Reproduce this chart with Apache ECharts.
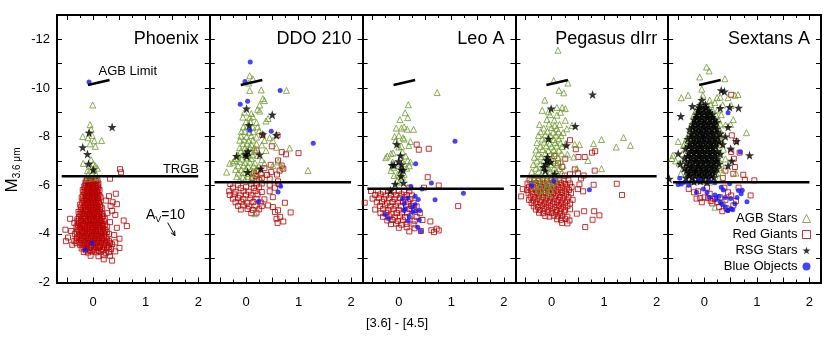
<!DOCTYPE html>
<html>
<head>
<meta charset="utf-8">
<script src="https://cdn.jsdelivr.net/npm/echarts@6/dist/echarts.min.js"></script>
<style>
  html, body { margin: 0; padding: 0; background: #fff; }
  #main { width: 830px; height: 342px; }
</style>
</head>
<body>
<div id="main"></div>
<script>
// panels, left to right
var panelNames = ['Phoenix', 'DDO 210', 'Leo A', 'Pegasus dIrr', 'Sextans A'];
var trgbLevels = [-6.37, -6.12, -5.86, -6.37, -6.12];
var trgbSpan = [-0.6, 2.0];
var agbLimit = [[-0.1, -10.12], [0.31, -10.33]];

// tick positions
var xMajorTicks = [-0.5, 0, 0.5, 1, 1.5, 2];
var xMinorTicks = [-0.25, 0.25, 0.75, 1.25, 1.75];
var xTickLabels = [0, 1, 2];
var yTicks = [-12, -11, -10, -9, -8, -7, -6, -5, -4, -3];
var yTickLabels = [-12, -10, -8, -6, -4, -2];

// ---- Phoenix ----
var phoenixAgb = [[-0.01,-9.3],[-0.06,-8.49],[-0.04,-8.3],[-0.2,-8.0],[-0.02,-8.05],[0.16,-7.84],[-0.06,-7.7],[0.02,-7.83],
  [-0.1,-7.95],[0.04,-7.6],[-0.19,-6.9],[0.0,-6.88],[0.04,-6.8],[-0.11,-6.6],[0.02,-6.62],[-0.05,-6.75],[-0.1,-6.45],
  [0.05,-6.45],[-0.02,-6.5],[-0.11,-6.28],[0.0,-6.3],[0.08,-6.32],[-0.04,-7.05],[0.08,-6.7]];
var phoenixRgb = [[-0.12,-6.25],[-0.05,-6.22],[0.02,-6.26],[0.08,-6.2],
  [-0.15,-6.1],[-0.1,-6.08],[-0.04,-6.12],[0.0,-6.06],[0.05,-6.1],[0.1,-6.07],[0.32,-6.27],[0.51,-6.66],[0.53,-6.53],
  [-0.17,-5.95],[-0.11,-5.93],[-0.06,-5.97],[-0.01,-5.92],[0.04,-5.96],[0.09,-5.94],
  [-0.2,-5.8],[-0.13,-5.78],[-0.08,-5.82],[-0.03,-5.79],[0.02,-5.81],[0.07,-5.77],[0.12,-5.8],[0.43,-5.65],
  [-0.16,-5.65],[-0.1,-5.63],[-0.05,-5.67],[0.0,-5.64],[0.05,-5.66],[0.1,-5.62],[0.3,-5.55],
  [-0.22,-5.5],[-0.14,-5.48],[-0.08,-5.52],[-0.02,-5.49],[0.03,-5.51],[0.08,-5.47],[0.14,-5.5],[0.24,-5.37],
  [-0.18,-5.35],[-0.12,-5.33],[-0.06,-5.37],[0.0,-5.34],[0.06,-5.36],[0.11,-5.32],[0.37,-5.3],
  [-0.25,-5.2],[-0.16,-5.18],[-0.1,-5.22],[-0.04,-5.19],[0.02,-5.21],[0.07,-5.17],[0.13,-5.2],[0.33,-5.15],[0.45,-5.22],
  [-0.2,-5.05],[-0.13,-5.03],[-0.07,-5.07],[-0.01,-5.04],[0.05,-5.06],[0.1,-5.02],[0.17,-5.05],
  [-0.28,-4.9],[-0.22,-4.88],[-0.15,-4.92],[-0.09,-4.89],[-0.03,-4.91],[0.03,-4.87],[0.08,-4.9],[0.14,-4.88],[0.36,-4.95],[0.27,-4.85],
  [-0.24,-4.75],[-0.17,-4.73],[-0.11,-4.77],[-0.05,-4.74],[0.01,-4.76],[0.07,-4.72],[0.12,-4.75],[0.19,-4.73],[0.42,-4.78],
  [-0.44,-4.62],[-0.3,-4.6],[-0.23,-4.58],[-0.16,-4.62],[-0.1,-4.59],[-0.04,-4.61],[0.02,-4.57],[0.08,-4.6],[0.14,-4.58],[0.22,-4.62],[0.58,-4.55],
  [-0.36,-4.45],[-0.27,-4.45],[-0.2,-4.43],[-0.13,-4.47],[-0.07,-4.44],[-0.01,-4.46],[0.05,-4.42],[0.11,-4.45],[0.17,-4.43],[0.32,-4.48],
  [-0.32,-4.3],[-0.25,-4.28],[-0.18,-4.32],[-0.12,-4.29],[-0.06,-4.31],[0.0,-4.27],[0.06,-4.3],[0.12,-4.28],[0.19,-4.32],[0.26,-4.3],[0.45,-4.25],[0.64,-4.32],
  [-0.53,-4.17],[-0.42,-4.12],[-0.28,-4.15],[-0.21,-4.13],[-0.15,-4.17],[-0.09,-4.14],[-0.03,-4.16],[0.03,-4.12],[0.09,-4.15],[0.15,-4.13],[0.23,-4.17],
  [-0.35,-4.0],[-0.27,-3.98],[-0.19,-4.02],[-0.12,-3.99],[-0.05,-4.01],[0.02,-3.97],[0.08,-4.0],[0.15,-3.98],[0.22,-4.02],[0.3,-4.0],[0.4,-3.95],
  [-0.48,-3.85],[-0.31,-3.85],[-0.24,-3.83],[-0.17,-3.87],[-0.1,-3.84],[-0.04,-3.86],[0.03,-3.82],[0.1,-3.85],[0.17,-3.83],[0.25,-3.87],[0.5,-3.8],
  [-0.52,-3.7],[-0.36,-3.7],[-0.28,-3.68],[-0.2,-3.72],[-0.13,-3.69],[-0.06,-3.71],[0.01,-3.67],[0.08,-3.7],[0.15,-3.68],[0.22,-3.72],[0.3,-3.7],[0.42,-3.65],
  [-0.4,-3.55],[-0.25,-3.55],[-0.18,-3.53],[-0.11,-3.57],[-0.04,-3.54],[0.04,-3.56],[0.12,-3.52],[0.2,-3.55],[0.28,-3.53],[0.36,-3.57],
  [-0.22,-3.4],[-0.15,-3.38],[-0.07,-3.42],[0.01,-3.39],[0.09,-3.41],[0.17,-3.37],[0.26,-3.4],[0.34,-3.38],[0.5,-3.42],
  [-0.18,-3.25],[-0.1,-3.23],[-0.02,-3.27],[0.06,-3.24],[0.14,-3.26],[0.24,-3.22],[0.3,-3.25],[0.42,-3.28],
  [-0.05,-3.1],[0.1,-3.08],[0.2,-3.12],[0.32,-3.1],[0.2,-2.95],[0.36,-2.9],
  // denser core
  [-0.13,-6.17],[-0.07,-6.17],[-0.01,-6.17],[0.05,-6.17],
  [-0.14,-6.02],[-0.08,-6.02],[-0.02,-6.02],[0.03,-6.02],[0.08,-6.02],
  [-0.16,-5.87],[-0.1,-5.87],[-0.05,-5.87],[0.0,-5.87],[0.05,-5.87],[0.1,-5.87],
  [-0.18,-5.72],[-0.12,-5.72],[-0.07,-5.72],[-0.02,-5.72],[0.03,-5.72],[0.08,-5.72],
  [-0.19,-5.57],[-0.13,-5.57],[-0.08,-5.57],[-0.03,-5.57],[0.03,-5.57],[0.08,-5.57],[0.12,-5.57],
  [-0.2,-5.42],[-0.15,-5.42],[-0.09,-5.42],[-0.03,-5.42],[0.03,-5.42],[0.09,-5.42],
  [-0.21,-5.27],[-0.13,-5.27],[-0.07,-5.27],[-0.01,-5.27],[0.05,-5.27],[0.1,-5.27],
  [-0.23,-5.12],[-0.17,-5.12],[-0.1,-5.12],[-0.04,-5.12],[0.02,-5.12],[0.08,-5.12],[0.14,-5.12],
  [-0.24,-4.97],[-0.16,-4.97],[-0.1,-4.97],[-0.04,-4.97],[0.02,-4.97],[0.08,-4.97],[0.13,-4.97],
  [-0.26,-4.82],[-0.19,-4.82],[-0.12,-4.82],[-0.06,-4.82],[0.0,-4.82],[0.06,-4.82],[0.11,-4.82],[0.17,-4.82],
  [-0.27,-4.67],[-0.2,-4.67],[-0.13,-4.67],[-0.07,-4.67],[-0.01,-4.67],[0.05,-4.67],[0.11,-4.67],[0.17,-4.67],
  [-0.3,-4.52],[-0.23,-4.52],[-0.16,-4.52],[-0.1,-4.52],[-0.04,-4.52],[0.02,-4.52],[0.08,-4.52],[0.14,-4.52],[0.2,-4.52],
  [-0.29,-4.37],[-0.22,-4.37],[-0.15,-4.37],[-0.09,-4.37],[-0.03,-4.37],[0.03,-4.37],[0.09,-4.37],[0.15,-4.37],[0.22,-4.37],
  [-0.3,-4.22],[-0.24,-4.22],[-0.18,-4.22],[-0.12,-4.22],[-0.06,-4.22],[0.0,-4.22],[0.06,-4.22],[0.12,-4.22],[0.19,-4.22],
  [-0.31,-4.07],[-0.23,-4.07],[-0.16,-4.07],[-0.09,-4.07],[-0.02,-4.07],[0.05,-4.07],[0.12,-4.07],[0.19,-4.07],[0.26,-4.07],
  [-0.28,-3.92],[-0.21,-3.92],[-0.14,-3.92],[-0.07,-3.92],[0.0,-3.92],[0.07,-3.92],[0.14,-3.92],[0.21,-3.92],
  [-0.32,-3.77],[-0.24,-3.77],[-0.17,-3.77],[-0.1,-3.77],[-0.03,-3.77],[0.04,-3.77],[0.11,-3.77],[0.18,-3.77],[0.26,-3.77],
  [-0.32,-3.62],[-0.22,-3.62],[-0.15,-3.62],[-0.08,-3.62],[0.0,-3.62],[0.08,-3.62],[0.16,-3.62],[0.24,-3.62],[0.32,-3.62],
  [-0.19,-3.47],[-0.11,-3.47],[-0.03,-3.47],[0.05,-3.47],[0.13,-3.47],[0.21,-3.47],[0.3,-3.47],
  [-0.14,-3.32],[-0.06,-3.32],[0.02,-3.32],[0.1,-3.32],[0.19,-3.32]];
var phoenixRsg = [[0.36,-8.39],[-0.08,-8.16],[-0.2,-7.56],[-0.11,-7.28],[-0.09,-6.88],[0.0,-6.64]];
var phoenixBlue = [[-0.08,-10.24],[-0.02,-3.62],[-0.15,-3.35]];

// ---- DDO 210 ----
var ddoAgb = [[0.07,-10.5],[0.13,-10.38],[0.05,-10.2],[0.07,-9.9],[0.29,-9.92],[0.77,-9.9],[0.32,-9.56],[0.35,-9.48],
  [0.26,-9.3],[0.22,-9.12],[0.26,-9.05],[0.42,-8.74],[0.38,-8.64],[0.83,-7.53],[1.18,-6.61],[0.17,-4.83],[-0.31,-6.9],
  [-0.37,-6.54],[-0.22,-7.02],[0.68,-6.75],[0.61,-6.96],[0.51,-6.81],[0.58,-7.56],[0.45,-7.95],[0.51,-7.84],
  [-0.03,-9.0],[0.1,-8.95],[-0.06,-8.8],[0.07,-8.78],[0.13,-8.82],[0.0,-8.6],[0.08,-8.62],[0.2,-8.58],
  [-0.05,-8.4],[0.03,-8.42],[0.13,-8.38],[0.22,-8.4],[-0.09,-8.2],[-0.02,-8.22],[0.06,-8.18],[0.14,-8.2],[0.25,-8.24],
  [-0.1,-8.02],[0.01,-8.0],[0.1,-8.04],[0.2,-7.98],[0.35,-7.84],[-0.12,-7.85],[-0.04,-7.87],[0.05,-7.83],[0.13,-7.86],
  [-0.06,-7.7],[0.02,-7.72],[0.1,-7.68],[0.2,-7.7],[0.3,-7.66],[-0.12,-7.55],[-0.02,-7.53],[0.07,-7.57],[0.16,-7.54],
  [-0.1,-7.4],[0.0,-7.42],[0.09,-7.38],[0.18,-7.4],[0.38,-7.43],[-0.16,-7.25],[-0.06,-7.27],[0.04,-7.23],[0.12,-7.25],[0.22,-7.22],
  [-0.2,-7.1],[-0.08,-7.08],[0.02,-7.12],[0.1,-7.1],[0.3,-7.05],[-0.25,-6.95],[-0.12,-6.97],[-0.02,-6.93],[0.07,-6.95],[0.17,-6.92],[0.35,-6.9],
  [-0.15,-6.8],[-0.05,-6.82],[0.04,-6.78],[0.14,-6.8],[0.24,-6.77],[-0.2,-6.65],[-0.09,-6.63],[0.0,-6.67],[0.1,-6.64],[0.2,-6.66],
  [-0.15,-6.5],[-0.05,-6.52],[0.05,-6.48],[0.13,-6.5],[-0.18,-6.35],[-0.06,-6.33],[0.04,-6.37],[0.13,-6.34],[0.26,-6.33],
  [-0.12,-6.2],[-0.02,-6.22],[0.08,-6.18]];
var ddoRgb = [[0.31,-8.06],[0.6,-8.05],[0.49,-7.6],[0.2,-7.43],[0.68,-7.36],[0.76,-7.27],[1.0,-7.32],[0.61,-7.02],[0.47,-6.84],
  [0.68,-6.81],[0.71,-6.68],[0.64,-6.6],[0.59,-6.44],[0.48,-6.54],[0.45,-6.27],[0.61,-6.16],[0.22,-6.6],[0.28,-6.45],
  [0.18,-6.38],[0.3,-6.3],[0.35,-6.7],[0.25,-6.22],[0.4,-6.42],[0.15,-6.52],[0.2,-6.25],[0.12,-6.3],
  [-0.3,-6.05],[-0.15,-6.02],[0.1,-6.06],[0.2,-6.03],[0.3,-6.07],[0.45,-6.02],[0.62,-6.05],
  [-0.25,-5.9],[-0.1,-5.88],[0.0,-5.92],[0.15,-5.89],[0.25,-5.91],[0.55,-5.9],
  [-0.32,-5.75],[-0.2,-5.73],[-0.05,-5.77],[0.05,-5.74],[0.18,-5.76],[0.3,-5.72],[0.45,-5.75],
  [-0.31,-5.6],[-0.22,-5.62],[-0.12,-5.58],[0.0,-5.61],[0.1,-5.59],[0.22,-5.62],[0.51,-5.51],
  [-0.25,-5.45],[-0.15,-5.47],[-0.05,-5.43],[0.08,-5.46],[0.2,-5.44],[0.35,-5.42],
  [-0.2,-5.3],[-0.09,-5.32],[0.02,-5.28],[0.14,-5.31],[0.28,-5.29],[0.42,-5.17],[0.74,-5.28],
  [-0.15,-5.15],[-0.05,-5.17],[0.06,-5.13],[0.18,-5.16],[0.3,-5.14],[0.51,-5.1],
  [-0.1,-5.0],[0.03,-5.02],[0.13,-4.98],[0.25,-5.01],[0.61,-4.97],[0.1,-4.85],[0.2,-4.87],[0.55,-4.9],[0.85,-4.88],
  [0.58,-4.62],[0.65,-4.7],[0.71,-4.51],[0.6,-4.45]];
var ddoRsg = [[0.01,-9.15],[0.06,-8.46],[0.5,-8.9],[0.32,-8.09],[0.58,-8.06],[0.04,-7.39],[0.01,-7.2],[-0.18,-7.2],
  [0.26,-7.26],[0.28,-6.68],[0.03,-6.54],[-0.01,-7.27]];
var ddoBlue = [[0.08,-11.07],[-0.02,-10.27],[0.65,-9.9],[-0.11,-9.33],[0.03,-9.45],[0.07,-8.26],[0.48,-8.22],[1.28,-7.73],
  [0.66,-5.96],[0.61,-5.72],[0.24,-5.33]];

// ---- Leo A ----
var leoAgb = [[0.73,-9.81],[0.18,-9.31],[0.12,-8.98],[0.17,-8.78],[0.02,-8.7],[-0.05,-8.35],[0.05,-8.35],[0.1,-8.4],
  [0.28,-8.3],[0.16,-8.3],[-0.08,-8.0],[0.0,-8.05],[0.08,-7.95],[0.22,-7.8],[0.19,-7.63],[0.0,-7.57],[-0.06,-7.84],
  [0.1,-7.9],[-0.22,-7.2],[-0.11,-7.33],[-0.15,-7.3],[0.07,-7.36],[0.04,-7.16],[0.17,-7.02],[0.13,-7.2],[0.22,-6.96],
  [-0.06,-6.88],[0.1,-6.88],[0.2,-6.8],[-0.1,-6.72],[-0.15,-6.61],[-0.02,-6.45],[0.1,-6.45],[-0.09,-6.4],[0.07,-6.33],
  [-0.03,-6.17],[0.01,-6.13],[0.15,-6.7],[0.05,-7.6],[-0.12,-6.95],[0.03,-6.55],[-0.25,-7.13]];
var leoRgb = [[-0.4,-5.75],[-0.3,-5.73],[-0.2,-5.77],[-0.1,-5.74],[0.0,-5.76],[0.1,-5.72],[0.2,-5.75],[-0.53,-5.76],
  [-0.45,-5.6],[-0.35,-5.62],[-0.25,-5.58],[-0.15,-5.61],[-0.05,-5.59],[0.05,-5.62],[0.15,-5.6],[0.25,-5.58],
  [-0.5,-5.45],[-0.38,-5.47],[-0.28,-5.43],[-0.18,-5.46],[-0.08,-5.44],[0.02,-5.47],[0.12,-5.45],[0.22,-5.43],
  [-0.65,-5.28],[-0.42,-5.3],[-0.32,-5.32],[-0.22,-5.28],[-0.12,-5.31],[-0.02,-5.29],[0.08,-5.32],[0.18,-5.3],[0.28,-5.28],
  [-0.36,-5.15],[-0.26,-5.17],[-0.16,-5.13],[-0.06,-5.16],[0.04,-5.14],[0.14,-5.17],[0.24,-5.15],[0.34,-5.13],
  [-0.45,-5.0],[-0.3,-5.02],[-0.2,-4.98],[-0.1,-5.01],[0.0,-4.99],[0.2,-5.02],[0.3,-4.98],
  [-0.35,-4.85],[-0.24,-4.87],[-0.14,-4.83],[-0.04,-4.86],[0.06,-4.84],[0.16,-4.87],[0.4,-4.85],
  [-0.3,-4.7],[-0.18,-4.72],[-0.08,-4.68],[0.02,-4.71],[0.12,-4.69],[0.22,-4.72],[0.34,-4.7],
  [-0.22,-4.55],[-0.12,-4.57],[-0.02,-4.53],[0.08,-4.56],[0.3,-4.54],[0.45,-4.57],
  [-0.15,-4.4],[-0.05,-4.42],[0.05,-4.38],[0.15,-4.41],[0.28,-4.39],[0.0,-4.25],[0.15,-4.27],[0.3,-4.23],[0.2,-4.1],[0.42,-4.12],
  [0.34,-7.67],[0.38,-7.46],[0.57,-7.5],[0.55,-6.33],[0.76,-5.99],[1.13,-5.14],[0.6,-4.51],[0.72,-4.21],[0.76,-4.14],
  [0.67,-4.07],[0.62,-4.15],[0.48,-5.9],[0.2,-5.9]];
var leoRsg = [[-0.04,-7.68],[0.03,-7.22],[0.0,-6.98],[-0.13,-6.83],[-0.09,-6.83],[0.04,-6.64],[0.08,-6.62],[0.04,-6.37],
  [0.09,-6.1],[-0.07,-6.05],[-0.16,-5.78],[0.05,-6.85]];
var leoBlue = [[1.07,-7.81],[0.32,-6.88],[0.62,-6.09],[0.23,-5.95],[0.44,-5.85],[0.69,-5.4],[1.23,-5.67],[0.07,-5.44],
  [0.17,-5.47],[0.31,-5.55],[0.37,-5.41],[0.31,-5.2],[0.12,-5.03],[0.1,-4.96],[0.26,-4.9],[0.32,-4.94],[0.4,-4.96],
  [-0.26,-4.8],[-0.2,-4.63],[0.18,-4.52],[0.39,-4.57],[0.36,-4.27],[0.42,-4.11],[0.1,-5.25],[0.25,-5.1],[0.2,-4.7]];

// ---- Pegasus dIrr ----
var pegAgb = [[0.12,-11.55],[0.04,-10.3],[0.31,-10.2],[0.14,-9.9],[0.23,-9.8],[-0.13,-9.5],[-0.18,-9.08],[-0.06,-9.02],
  [0.1,-9.2],[0.2,-9.2],[0.26,-9.15],[0.17,-9.0],
  [-0.03,-8.9],[0.1,-8.88],[-0.09,-8.7],[0.05,-8.68],[0.26,-8.67],
  [-0.23,-8.5],[-0.05,-8.52],[0.06,-8.46],[0.15,-8.5],[0.39,-8.46],[-0.15,-8.35],[0.0,-8.37],[0.1,-8.33],[0.29,-8.32],
  [-0.21,-8.2],[-0.08,-8.22],[0.03,-8.18],[0.13,-8.2],[0.22,-8.17],[-0.25,-8.05],[-0.12,-8.07],[-0.02,-8.03],[0.08,-8.06],[0.18,-8.04],
  [-0.18,-7.9],[-0.06,-7.92],[0.04,-7.88],[0.14,-7.91],[0.95,-7.88],[1.37,-7.96],
  [-0.28,-7.75],[-0.14,-7.77],[-0.03,-7.73],[0.07,-7.76],[0.17,-7.74],[0.27,-7.72],[0.8,-7.71],
  [-0.22,-7.6],[-0.1,-7.62],[0.0,-7.58],[0.1,-7.61],[0.2,-7.59],[0.44,-7.68],[0.53,-7.67],[1.23,-7.57],[1.5,-7.64],
  [-0.3,-7.45],[-0.17,-7.47],[-0.06,-7.43],[0.04,-7.46],[0.14,-7.44],
  [-0.25,-7.3],[-0.12,-7.32],[-0.02,-7.28],[0.08,-7.31],[0.19,-7.29],[0.3,-7.27],
  [-0.33,-7.15],[-0.2,-7.17],[-0.08,-7.13],[0.02,-7.16],[0.12,-7.14],[0.42,-7.16],
  [-0.28,-7.0],[-0.15,-7.02],[-0.04,-6.98],[0.06,-7.01],[0.17,-6.99],[0.69,-7.02],
  [-0.35,-6.85],[-0.22,-6.87],[-0.1,-6.83],[0.0,-6.86],[0.1,-6.84],[0.22,-6.82],
  [-0.3,-6.7],[-0.17,-6.72],[-0.06,-6.68],[0.05,-6.71],[0.15,-6.69],[0.48,-6.68],[0.95,-6.68],
  [-0.38,-6.55],[-0.25,-6.57],[-0.12,-6.53],[-0.02,-6.56],[0.09,-6.54],[0.2,-6.52],
  [-0.32,-6.4],[-0.2,-6.42],[-0.08,-6.38],[0.03,-6.41],[0.14,-6.39],
  [-0.4,-6.25],[-0.27,-6.27],[-0.15,-6.23],[-0.04,-6.26],[0.07,-6.24],
  [-0.3,-6.1],[-0.18,-6.12],[-0.06,-6.08],[0.05,-6.11],[-0.35,-5.95],[-0.22,-5.97],[-0.1,-5.93],[0.0,-5.96],
  [-0.25,-5.8],[-0.12,-5.82],[-0.02,-5.78],[-0.2,-5.6],[-0.05,-5.62]];
var pegRgb = [[0.35,-7.85],[0.46,-7.48],[0.77,-7.34],[0.83,-7.4],[0.51,-7.16],[0.63,-7.16],[0.26,-7.09],[0.44,-6.65],
  [0.61,-6.4],[0.82,-6.6],[0.5,-6.5],[0.35,-6.45],[0.2,-6.75],[0.12,-6.9],[0.05,-7.2],[0.25,-6.4],[0.56,-6.28],
  [-0.42,-6.2],[-0.33,-6.22],[-0.25,-6.18],[-0.17,-6.21],[-0.09,-6.19],[-0.01,-6.22],[0.07,-6.18],[0.15,-6.21],[0.23,-6.19],[0.32,-6.2],
  [-0.46,-6.07],[-0.38,-6.05],[-0.3,-6.09],[-0.22,-6.06],[-0.14,-6.08],[-0.06,-6.05],[0.02,-6.09],[0.1,-6.06],[0.18,-6.08],[0.26,-6.05],[0.35,-6.07],[0.53,-6.03],[0.8,-6.02],[1.24,-6.06],
  [-0.55,-5.84],[-0.43,-5.93],[-0.35,-5.91],[-0.27,-5.95],[-0.19,-5.92],[-0.11,-5.94],[-0.03,-5.91],[0.05,-5.95],[0.13,-5.92],[0.21,-5.94],[0.29,-5.91],[0.38,-5.93],[0.5,-5.84],
  [-0.47,-5.8],[-0.39,-5.78],[-0.31,-5.82],[-0.23,-5.79],[-0.15,-5.81],[-0.07,-5.78],[0.01,-5.82],[0.09,-5.79],[0.17,-5.81],[0.25,-5.78],[0.33,-5.8],[0.6,-5.75],
  [-0.58,-5.54],[-0.44,-5.67],[-0.36,-5.65],[-0.28,-5.69],[-0.2,-5.66],[-0.12,-5.68],[-0.04,-5.65],[0.04,-5.69],[0.12,-5.66],[0.2,-5.68],[0.28,-5.65],[0.37,-5.67],[1.34,-5.6],
  [-0.4,-5.53],[-0.32,-5.51],[-0.24,-5.55],[-0.16,-5.52],[-0.08,-5.54],[0.0,-5.51],[0.08,-5.55],[0.16,-5.52],[0.24,-5.54],[0.32,-5.51],
  [-0.43,-5.4],[-0.35,-5.38],[-0.27,-5.42],[-0.19,-5.39],[-0.11,-5.41],[-0.03,-5.38],[0.05,-5.42],[0.13,-5.39],[0.21,-5.41],[0.29,-5.38],[0.4,-5.4],
  [-0.38,-5.27],[-0.3,-5.25],[-0.22,-5.29],[-0.14,-5.26],[-0.06,-5.28],[0.02,-5.25],[0.1,-5.29],[0.18,-5.26],[0.26,-5.28],[0.35,-5.25],
  [-0.34,-5.13],[-0.26,-5.11],[-0.18,-5.15],[-0.1,-5.12],[-0.02,-5.14],[0.06,-5.11],[0.14,-5.15],[0.22,-5.12],[0.3,-5.14],
  [-0.3,-5.0],[-0.22,-4.98],[-0.14,-5.02],[-0.06,-4.99],[0.02,-5.01],[0.1,-4.98],[0.18,-5.02],[0.26,-4.99],[0.35,-5.01],[0.62,-4.93],[0.81,-4.93],
  [-0.24,-4.87],[-0.16,-4.85],[-0.08,-4.89],[0.0,-4.86],[0.08,-4.88],[0.16,-4.85],[0.24,-4.89],[0.48,-4.83],[0.91,-4.76],
  [-0.12,-4.73],[-0.04,-4.71],[0.04,-4.75],[0.12,-4.72],[0.2,-4.74],[0.3,-4.71],
  [0.1,-4.6],[0.18,-4.58],[0.26,-4.62],[0.34,-4.55],[0.78,-4.58],[0.2,-4.45],[0.3,-4.43],[0.64,-4.28]];
var pegRsg = [[-0.01,-9.15],[0.78,-9.73],[0.45,-8.43],[-0.06,-7.91],[0.28,-7.64],[-0.08,-7.16],[-0.09,-7.02],[-0.11,-6.88],
  [-0.15,-6.74],[-0.12,-6.6],[0.06,-6.47],[-0.02,-6.95]];
var pegBlue = [[-0.38,-5.99],[0.04,-6.18],[0.72,-5.81]];

// ---- Sextans A ----
var sexAgb = [[0.04,-10.86],[0.09,-10.7],[-0.09,-10.45],[0.39,-10.38],[-0.44,-9.6],[-0.31,-9.7],[-0.03,-9.7],[0.24,-9.6],
  [0.3,-9.62],[0.58,-9.7],[0.64,-9.73],[0.51,-9.28],[0.8,-8.16],[-0.6,-7.23],[-0.62,-7.1],[-0.4,-7.64],[-0.45,-6.47],
  [0.45,-9.6],[0.2,-9.4],[0.1,-9.5],[-0.05,-9.95],[0.35,-9.3],[0.5,-8.5],[0.55,-8.7],[-0.5,-7.8],[-0.55,-7.0],[0.6,-6.5],
  [0.2,-5.1],[0.35,-5.35],
  [-0.1,-9.3],[0.0,-9.28],[0.12,-9.32],[-0.15,-9.1],[-0.05,-9.12],[0.05,-9.08],[0.15,-9.11],[0.25,-9.09],
  [-0.2,-8.9],[-0.08,-8.92],[0.02,-8.88],[0.12,-8.91],[0.22,-8.89],[0.32,-8.9],
  [-0.18,-8.7],[-0.06,-8.72],[0.06,-8.68],[0.16,-8.71],[0.27,-8.69],
  [-0.25,-8.5],[-0.12,-8.52],[0.0,-8.48],[0.1,-8.51],[0.2,-8.49],[0.3,-8.52],[0.4,-8.48],
  [-0.28,-8.3],[-0.16,-8.32],[-0.04,-8.28],[0.08,-8.31],[0.18,-8.29],[0.28,-8.32],
  [-0.3,-8.1],[-0.2,-8.12],[-0.08,-8.08],[0.04,-8.11],[0.15,-8.09],[0.25,-8.12],[0.35,-8.08],
  [-0.34,-7.9],[-0.22,-7.92],[-0.1,-7.88],[0.02,-7.91],[0.12,-7.89],[0.22,-7.92],[0.32,-7.88],
  [-0.38,-7.7],[-0.26,-7.72],[-0.14,-7.68],[-0.02,-7.71],[0.1,-7.69],[0.2,-7.72],[0.3,-7.68],
  [-0.3,-7.5],[-0.18,-7.52],[-0.06,-7.48],[0.06,-7.51],[0.16,-7.49],[0.26,-7.52],[0.36,-7.48],
  [-0.42,-7.3],[-0.28,-7.32],[-0.15,-7.28],[-0.03,-7.31],[0.08,-7.29],[0.19,-7.32],[0.3,-7.28],
  [-0.38,-7.1],[-0.24,-7.12],[-0.1,-7.08],[0.02,-7.11],[0.14,-7.09],[0.25,-7.12],[0.4,-7.08],
  [-0.48,-6.9],[-0.32,-6.92],[-0.18,-6.88],[-0.05,-6.91],[0.08,-6.89],[0.2,-6.92],[0.32,-6.88],
  [-0.4,-6.7],[-0.26,-6.72],[-0.12,-6.68],[0.02,-6.71],[0.15,-6.69],[0.28,-6.72],
  [-0.35,-6.5],[-0.2,-6.52],[-0.06,-6.48],[0.08,-6.51],[0.22,-6.49],[0.35,-6.52],
  [-0.3,-6.3],[-0.15,-6.32],[0.0,-6.28],[0.14,-6.31],[0.28,-6.29],[-0.22,-6.15],[-0.05,-6.17],[0.1,-6.13]];
var sexRgb = [[0.51,-9.72],[0.52,-8.05],[0.6,-7.81],[0.51,-7.37],[0.67,-7.34],[0.56,-7.09],[0.58,-6.75],[0.55,-6.47],
  [0.74,-6.43],[0.95,-6.2],[0.77,-6.22],[0.4,-6.6],[0.3,-7.8],[0.35,-6.3],
  [-0.2,-5.71],[-0.08,-5.47],[0.0,-5.5],[0.07,-5.47],[0.2,-5.44],[0.45,-5.71],[0.51,-5.58],[0.88,-5.58],[0.55,-5.17],
  [0.3,-5.5],[0.34,-4.93],[-0.3,-5.85],[-0.12,-5.75],[0.1,-5.65],[0.25,-5.3],[0.4,-5.4],[0.6,-5.35],[0.15,-5.25],
  [-0.05,-5.3],[0.38,-5.9],[0.65,-5.9],[0.05,-5.9],[0.28,-5.1],[0.42,-5.05],[-0.15,-5.45],[0.12,-5.35]];
var sexRsg = [[-0.45,-8.84],[-0.23,-9.25],[0.32,-9.9],[0.38,-9.85],[0.3,-9.17],[0.48,-9.21],[0.65,-9.18],[0.45,-8.39],
  [0.61,-7.81],[0.86,-7.23],[-0.67,-6.26],[-0.46,-6.88],[0.4,-8.0],[0.5,-7.5],[0.52,-7.0],[0.45,-6.8],[-0.5,-7.3],
  [-0.05,-9.5],[-0.08,-9.3],[0.02,-9.32],[-0.12,-9.1],[-0.02,-9.12],[0.08,-9.08],
  [-0.15,-8.9],[-0.05,-8.92],[0.05,-8.88],[0.15,-8.91],
  [-0.2,-8.7],[-0.1,-8.72],[0.0,-8.68],[0.1,-8.71],[0.2,-8.69],
  [-0.22,-8.5],[-0.12,-8.52],[-0.02,-8.48],[0.08,-8.51],[0.18,-8.49],
  [-0.28,-8.3],[-0.16,-8.32],[-0.06,-8.28],[0.04,-8.31],[0.14,-8.29],[0.24,-8.32],
  [-0.25,-8.1],[-0.14,-8.12],[-0.04,-8.08],[0.06,-8.11],[0.16,-8.09],[0.3,-8.12],
  [-0.32,-7.9],[-0.2,-7.92],[-0.1,-7.88],[0.0,-7.91],[0.1,-7.89],[0.2,-7.92],
  [-0.28,-7.7],[-0.18,-7.72],[-0.08,-7.68],[0.02,-7.71],[0.12,-7.69],[0.22,-7.72],[0.35,-7.68],
  [-0.36,-7.5],[-0.24,-7.52],[-0.14,-7.48],[-0.04,-7.51],[0.06,-7.49],[0.16,-7.52],
  [-0.3,-7.3],[-0.2,-7.32],[-0.1,-7.28],[0.0,-7.31],[0.1,-7.29],[0.2,-7.32],[0.3,-7.28],
  [-0.38,-7.1],[-0.26,-7.12],[-0.16,-7.08],[-0.06,-7.11],[0.04,-7.09],[0.14,-7.12],[0.24,-7.08],
  [-0.34,-6.9],[-0.22,-6.92],[-0.12,-6.88],[-0.02,-6.91],[0.08,-6.89],[0.18,-6.92],[0.28,-6.88],
  [-0.38,-6.7],[-0.26,-6.72],[-0.16,-6.68],[-0.06,-6.71],[0.04,-6.69],[0.14,-6.72],[0.24,-6.68],
  [-0.3,-6.5],[-0.2,-6.52],[-0.1,-6.48],[0.0,-6.51],[0.1,-6.49],[0.2,-6.52],
  [-0.35,-6.3],[-0.24,-6.32],[-0.12,-6.28],[-0.02,-6.31],[0.08,-6.29],[0.18,-6.32],[-0.2,-6.15],[-0.08,-6.17],[0.05,-6.13],
  // denser core
  [-0.1,-9.2],[0.03,-9.2],[-0.1,-9.0],[0.0,-9.0],[0.1,-9.0],
  [-0.15,-8.8],[-0.05,-8.8],[0.05,-8.8],[0.15,-8.8],
  [-0.17,-8.6],[-0.07,-8.6],[0.03,-8.6],[0.13,-8.6],[0.23,-8.6],
  [-0.22,-8.4],[-0.11,-8.4],[-0.01,-8.4],[0.09,-8.4],[0.19,-8.4],
  [-0.2,-8.2],[-0.09,-8.2],[0.01,-8.2],[0.11,-8.2],[0.22,-8.2],
  [-0.26,-8.0],[-0.15,-8.0],[-0.05,-8.0],[0.05,-8.0],[0.15,-8.0],[0.25,-8.0],
  [-0.23,-7.8],[-0.13,-7.8],[-0.03,-7.8],[0.07,-7.8],[0.17,-7.8],[0.28,-7.8],
  [-0.3,-7.6],[-0.19,-7.6],[-0.09,-7.6],[0.01,-7.6],[0.11,-7.6],[0.21,-7.6],
  [-0.25,-7.4],[-0.15,-7.4],[-0.05,-7.4],[0.05,-7.4],[0.15,-7.4],[0.25,-7.4],
  [-0.32,-7.2],[-0.21,-7.2],[-0.11,-7.2],[-0.01,-7.2],[0.09,-7.2],[0.19,-7.2],
  [-0.28,-7.0],[-0.17,-7.0],[-0.07,-7.0],[0.03,-7.0],[0.13,-7.0],[0.23,-7.0],
  [-0.3,-6.8],[-0.21,-6.8],[-0.11,-6.8],[-0.01,-6.8],[0.09,-6.8],[0.19,-6.8],
  [-0.34,-6.6],[-0.25,-6.6],[-0.15,-6.6],[-0.05,-6.6],[0.05,-6.6],[0.15,-6.6],
  [-0.29,-6.4],[-0.18,-6.4],[-0.07,-6.4],[0.03,-6.4],[0.13,-6.4]];
var sexBlue = [[0.45,-8.98],[0.68,-7.37],[0.72,-5.79],[0.81,-5.32],[0.54,-4.99],[0.45,-4.96],[0.34,-5.21],[0.22,-5.44],
  [-0.44,-6.05],[-0.5,-6.03],[-0.38,-6.12],[-0.47,-6.29],[-0.1,-6.2],[0.1,-6.15],[0.2,-6.1],[0.48,-6.06],[0.32,-5.92],
  [0.36,-5.8],[-0.15,-5.71],[-0.02,-5.85],[0.05,-5.7],[0.2,-5.6],[0.28,-5.55],[0.4,-5.5],[0.5,-5.45],[0.58,-5.24],
  [0.65,-5.78],[0.7,-5.65],[0.51,-5.03],[0.4,-5.1],[0.3,-5.3],[-0.3,-6.0],[0.62,-5.5],[0.1,-5.5],[0.44,-4.96]];

var agbSets = [phoenixAgb, ddoAgb, leoAgb, pegAgb, sexAgb];
var rgbSets = [phoenixRgb, ddoRgb, leoRgb, pegRgb, sexRgb];
var rsgSets = [phoenixRsg, ddoRsg, leoRsg, pegRsg, sexRsg];
var blueSets = [phoenixBlue, ddoBlue, leoBlue, pegBlue, sexBlue];

(function () {
  var myChart = echarts.init(document.getElementById('main'));
  var font = '"Liberation Sans", Arial, Helvetica, sans-serif';
  var green = '#6e9a2c', red = '#b80000', blue = '#1515ff';
  var star = 'path://M0,-10 L2.35,-3.24 L9.51,-3.09 L3.8,1.24 L5.88,8.09 L0,4 L-5.88,8.09 L-3.8,1.24 L-9.51,-3.09 L-2.35,-3.24 Z';
  var panelLeft = 57, panelW = 152.8, panelTop = 15, panelH = 267.5;

  var grids = [], xAxes = [], yAxes = [], series = [], graphics = [];

  function xAxis(i, pos, ticks, len, labels) {
    return {
      type: 'value', gridIndex: i, position: pos, min: -0.69, max: 2.22,
      axisLine: { show: true, onZero: false, lineStyle: { color: '#000', width: 2 } },
      axisTick: { show: true, inside: true, length: len, customValues: ticks, lineStyle: { color: '#000', width: 1 } },
      axisLabel: { show: labels, customValues: xTickLabels, margin: 13, fontSize: 13, color: '#000', fontFamily: font },
      splitLine: { show: false }
    };
  }
  function yAxis(i, pos, labels) {
    return {
      type: 'value', gridIndex: i, position: pos, inverse: true, min: -13, max: -2,
      axisLine: { show: true, onZero: false, lineStyle: { color: '#000', width: 2 } },
      axisTick: { show: true, inside: true, length: 5, customValues: yTicks, lineStyle: { color: '#000', width: 1 } },
      axisLabel: { show: labels, customValues: yTickLabels, margin: 7, fontSize: 13, color: '#000', fontFamily: font },
      splitLine: { show: false }
    };
  }

  for (var i = 0; i < panelNames.length; i++) {
    var left = panelLeft + i * panelW;
    grids.push({ left: left, top: panelTop, width: panelW, height: panelH });
    xAxes.push(xAxis(i, 'bottom', xMajorTicks, 5, true));
    xAxes.push(xAxis(i, 'bottom', xMinorTicks, 3, false));
    xAxes.push(xAxis(i, 'top', xMajorTicks, 5, false));
    xAxes.push(xAxis(i, 'top', xMinorTicks, 3, false));
    yAxes.push(yAxis(i, 'left', i === 0));
    yAxes.push(yAxis(i, 'right', false));

    var xi = i * 4, yi = i * 2;
    series.push({
      name: 'Red Giants', type: 'scatter', xAxisIndex: xi, yAxisIndex: yi,
      symbol: 'rect', symbolSize: 5, data: rgbSets[i],
      itemStyle: { color: 'rgba(0,0,0,0)', borderColor: red, borderWidth: 1 }
    });
    series.push({
      name: 'AGB Stars', type: 'scatter', xAxisIndex: xi, yAxisIndex: yi,
      symbol: 'triangle', symbolSize: 6, data: agbSets[i],
      itemStyle: { color: 'rgba(0,0,0,0)', borderColor: green, borderWidth: 1 }
    });
    series.push({
      name: 'RSG Stars', type: 'scatter', xAxisIndex: xi, yAxisIndex: yi,
      symbol: star, symbolSize: 9, data: rsgSets[i],
      itemStyle: { color: '#000' }
    });
    series.push({
      name: 'Blue Objects', type: 'scatter', xAxisIndex: xi, yAxisIndex: yi,
      symbol: 'circle', symbolSize: 5, data: blueSets[i],
      itemStyle: { color: blue }
    });
    // TRGB line
    series.push({
      name: 'TRGB', type: 'line', xAxisIndex: xi, yAxisIndex: yi, symbol: 'none', silent: true,
      data: [[trgbSpan[0], trgbLevels[i]], [trgbSpan[1], trgbLevels[i]]],
      lineStyle: { color: '#000', width: 2.5 }
    });
    // AGB limit segment
    series.push({
      name: 'AGB Limit', type: 'line', xAxisIndex: xi, yAxisIndex: yi, symbol: 'none', silent: true,
      data: agbLimit, lineStyle: { color: '#000', width: 2.5 }
    });

    graphics.push({
      type: 'text', x: left + panelW - 11, y: 39,
      style: { text: panelNames[i], font: '18px ' + font, fill: '#000', align: 'right', verticalAlign: 'middle' }
    });
  }

  // labels in the first panel
  graphics.push({ type: 'text', x: 98.5, y: 71, style: { text: 'AGB Limit', font: '13px ' + font, fill: '#000', align: 'left', verticalAlign: 'middle' } });
  graphics.push({ type: 'text', x: 199, y: 169, style: { text: 'TRGB', font: '13px ' + font, fill: '#000', align: 'right', verticalAlign: 'middle' } });
  graphics.push({
    type: 'text', x: 146, y: 215,
    style: {
      text: '{a|A}{v|V}{a|=10}', align: 'left', verticalAlign: 'middle', fill: '#000',
      rich: {
        a: { fontSize: 14, fontFamily: font, lineHeight: 18, verticalAlign: 'middle' },
        v: { fontSize: 9, fontFamily: font, lineHeight: 9, verticalAlign: 'bottom' }
      }
    }
  });
  // reddening arrow
  graphics.push({ type: 'line', shape: { x1: 167.7, y1: 222.7, x2: 175, y2: 235.7 }, style: { stroke: '#000', lineWidth: 1 } });
  graphics.push({ type: 'polyline', shape: { points: [[174.6, 230.7], [175, 235.7], [170.9, 232.8]] }, style: { stroke: '#000', fill: null, lineWidth: 1 } });

  // axis titles
  graphics.push({
    type: 'text', x: 12, y: 170, rotation: Math.PI / 2,
    style: {
      text: '{m|M}{s|3.6 μm}', align: 'center', verticalAlign: 'middle', fill: '#000',
      rich: {
        m: { fontSize: 17, fontFamily: font, lineHeight: 20, verticalAlign: 'middle' },
        s: { fontSize: 10, fontFamily: font, lineHeight: 10, verticalAlign: 'bottom' }
      }
    }
  });
  graphics.push({ type: 'text', x: 397, y: 323, style: { text: '[3.6] - [4.5]', font: '13px ' + font, fill: '#000', align: 'center', verticalAlign: 'middle' } });

  myChart.setOption({
    animation: false,
    backgroundColor: '#fff',
    grid: grids,
    xAxis: xAxes,
    yAxis: yAxes,
    legend: {
      orient: 'vertical', align: 'right', right: 14, top: 207,
      itemWidth: 8, itemHeight: 8, itemGap: 3,
      textStyle: { fontSize: 13, color: '#000', fontFamily: font },
      data: [
        { name: 'AGB Stars', itemStyle: { borderWidth: 1 } },
        { name: 'Red Giants', itemStyle: { borderWidth: 1 } },
        { name: 'RSG Stars' },
        { name: 'Blue Objects', itemWidth: 6, itemHeight: 6 }
      ]
    },
    graphic: graphics,
    series: series
  });

  window.addEventListener('resize', function () {
    myChart.resize();
  });
})();
</script>
</body>
</html>
